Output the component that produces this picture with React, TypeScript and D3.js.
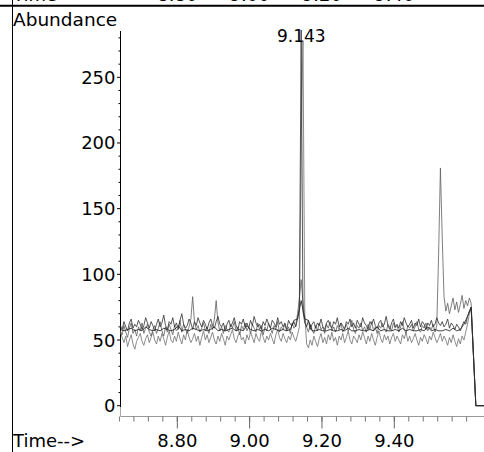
import React from "react";
import * as d3 from "d3";

// ---- data ----
const SCAN_START = 8.6425; // min, first scan
const SCAN_STEP = 0.005; // min between scans (ions A, B, C)
const D_STEP = 0.01; // min between scans (ion D)
const TAIL_TIMES = [9.6255, 9.648];
const TAIL_VALUES = [0, 0];

const seriesA = [
  61, 58, 64, 60, 57, 63, 66, 59, 62, 60,
  65, 62, 58, 61, 67, 63, 59, 64, 61, 57,
  62, 66, 60, 63, 69, 61, 58, 64, 62, 67,
  60, 63, 58, 65, 70, 62, 59, 61, 66, 63,
  58, 64, 61, 67, 63, 60, 65, 62, 58, 63,
  66, 61, 59, 64, 68, 62, 60, 63, 57, 62,
  65, 60, 63, 67, 61, 58, 64, 62, 66, 60,
  63, 59, 65, 61, 68, 63, 60, 62, 58, 64,
  61, 66, 62, 59, 65, 63, 60, 67, 62, 64,
  60, 63, 58, 65, 62, 61, 64, 60, 66, 75,
  286, 72, 63, 60, 65, 58, 62, 64, 59, 63,
  61, 66, 60, 58, 63, 65, 61, 59, 64, 62,
  67, 60, 63, 61, 58, 64, 62, 66, 60, 63,
  59, 65, 62, 60, 67, 63, 61, 58, 64, 62,
  66, 61, 59, 63, 65, 60, 62, 68, 61, 58,
  63, 66, 60, 62, 59, 64, 61, 67, 63, 60,
  62, 65, 59, 63, 61, 66, 60, 64, 62, 58,
  63, 61, 65, 60, 62, 67, 63, 61, 64, 60,
  62, 66, 59, 63, 61, 58, 62, 60, 57, 61,
  64, 62, 68, 72, 75,
];

const seriesB = [
  56, 52, 48, 53, 45, 50, 54, 47, 43, 49,
  52, 55, 49, 46, 51, 54, 48, 52, 56, 50,
  47, 53, 49, 55, 51, 46, 52, 57, 50, 48,
  53, 49, 56, 51, 47, 54, 50, 58, 52, 48,
  51, 55, 49, 53, 46, 52, 57, 50, 54, 48,
  52, 56, 50, 47, 53, 49, 55, 51, 46, 53,
  50, 54, 58, 51, 48, 53, 56, 50, 52, 47,
  54, 50, 56, 52, 48, 55, 51, 49, 57, 52,
  48, 53, 50, 55, 51, 47, 54, 58, 52, 49,
  55, 51, 48, 53, 50, 56, 52, 49, 54, 60,
  200, 278, 70, 47, 44, 50, 46, 53, 49, 45,
  51, 55, 48, 52, 47, 54, 50, 56, 49, 52,
  46, 53, 50, 55, 48, 52, 57, 50, 47, 53,
  51, 48, 54, 50, 56, 52, 47, 53, 49, 55,
  50, 46, 52, 57, 51, 48, 54, 50, 53, 47,
  52, 55, 49, 53, 50, 47, 54, 51, 56, 49,
  53, 48, 51, 55, 50, 46, 52, 49, 54, 51,
  47, 53, 50, 56, 52, 48, 51, 55, 49, 53,
  50, 46, 52, 48, 54, 49, 45, 51, 47, 53,
  50, 56, 62, 70, 74,
];

const seriesC = [
  57, 54, 61, 56, 52, 59, 63, 55, 58, 53,
  60, 57, 63, 55, 59, 62, 56, 53, 58, 61,
  55, 59, 64, 57, 53, 60, 56, 62, 58, 54,
  61, 57, 59, 65, 56, 62, 58, 55, 60, 66,
  83, 64, 58, 61, 56, 59, 63, 57, 60, 55,
  62, 58, 66, 80, 63, 57, 60, 55, 61, 58,
  56, 62, 59, 64, 57, 60, 54, 61, 58, 63,
  57, 60, 55, 62, 59, 56, 63, 58, 61, 54,
  60, 57, 63, 59, 55, 61, 58, 64, 56, 60,
  58, 62, 57, 60, 55, 63, 59, 61, 70, 82,
  96, 79, 66, 60, 56, 62, 58, 55, 61, 57,
  63, 58, 60, 55, 62, 59, 64, 57, 60, 56,
  61, 58, 63, 56, 59, 62, 57, 60, 65, 58,
  55, 61, 59, 63, 57, 60, 56, 62, 58, 64,
  57, 60, 55, 61, 59, 63, 58, 56, 62, 60,
  57, 63, 59, 61, 56, 60, 64, 58, 55, 61,
  59, 62, 57, 60, 64, 58, 56, 61, 59, 63,
  57, 60, 58, 62, 56, 61, 115, 181, 128, 83,
  72, 78, 70, 76, 82, 73, 79, 71, 77, 84,
  74, 80, 76, 82, 78,
];

const seriesD = [
  58, 57, 58, 59, 57, 58, 57, 60, 58, 57,
  58, 57, 59, 58, 57, 58, 61, 57, 58, 57,
  59, 58, 57, 58, 57, 58, 60, 57, 58, 57,
  58, 59, 57, 58, 57, 61, 58, 57, 58, 57,
  58, 57, 59, 58, 57, 58, 57, 58, 65, 66,
  80, 66, 65, 57, 57, 58, 57, 57, 58, 57,
  57, 58, 57, 59, 57, 57, 58, 57, 57, 58,
  57, 60, 57, 58, 57, 57, 58, 57, 59, 57,
  58, 57, 57, 58, 57, 60, 57, 58, 57, 57,
  58, 57, 59, 57, 58, 62, 68, 75,
];

const SERIES = [
  { name: "ion B", values: seriesB, step: SCAN_STEP, color: "#6e6e6e" },
  { name: "ion C", values: seriesC, step: SCAN_STEP, color: "#5e5e5e" },
  { name: "ion D", values: seriesD, step: D_STEP, color: "#111111" },
  { name: "ion A", values: seriesA, step: SCAN_STEP, color: "#2e2e2e" },
];

const Y_TICKS = [0, 50, 100, 150, 200, 250];
const X_TICKS = [8.8, 9.0, 9.2, 9.4];
const PEAK_LABEL = "9.143";
const PEAK_TIME = 9.143;

const W = 484;
const H = 452;
const FONT = "'DejaVu Sans', Verdana, sans-serif";

export default function App() {
  const x = d3.scaleLinear().domain([8.8, 9.4]).range([177.3, 394.3]);
  const y = d3.scaleLinear().domain([0, 250]).range([405.7, 77.3]);

  const toPoints = (vals: number[], step: number) => {
    const pts: [number, number][] = vals.map((v, i) => [SCAN_START + i * step, v]);
    TAIL_TIMES.forEach((t, i) => pts.push([t, TAIL_VALUES[i]]));
    return pts;
  };
  const line = d3
    .line<[number, number]>()
    .x((d) => x(d[0]))
    .y((d) => y(d[1]));

  const yMinor = d3.range(0, 290, 10);
  const xMinor = d3.range(0, 25).map((i) => 8.64 + i * 0.04);
  const axisX = 120.5;
  const axisY = 416.5;

  return (
    <div style={{ position: "absolute", left: 0, top: 0 }}>
      <svg width={W} height={H} style={{ display: "block", background: "#fff" }} fontFamily={FONT}>
        {/* bottom of the previous panel's time axis, cut by the frame */}
        <text x={13} y={0.5} fontSize={18}>Time--&gt;</text>
        {X_TICKS.map((t) => (
          <text key={"top" + t} x={x(t)} y={0.5} fontSize={18} textAnchor="middle">
            {t.toFixed(2)}
          </text>
        ))}
        {/* frame lines */}
        <line x1={0} x2={W} y1={5.7} y2={5.7} stroke="#000" strokeWidth={2} />
        <line x1={12.5} x2={12.5} y1={0} y2={H} stroke="#000" strokeWidth={1} />

        <text x={13} y={26} fontSize={18.5}>Abundance</text>

        {/* y axis */}
        <line x1={axisX} x2={axisX} y1={31} y2={407} stroke="#000" strokeWidth={1} />
        <line x1={axisX} x2={axisX} y1={407} y2={axisY} stroke="#aaa" strokeWidth={1} />
        {yMinor.map((v) => (
          <line
            key={"ym" + v}
            x1={axisX - (v % 50 === 0 ? 3.5 : 2)}
            x2={axisX}
            y1={y(v)}
            y2={y(v)}
            stroke="#000"
            strokeWidth={1}
          />
        ))}
        {Y_TICKS.map((v) => (
          <text key={"yl" + v} x={115.5} y={y(v) + 6.5} fontSize={18} textAnchor="end">
            {v}
          </text>
        ))}

        {/* x axis */}
        <line x1={axisX} x2={W} y1={axisY} y2={axisY} stroke="#999" strokeWidth={1} />
        {xMinor.map((t, i) => (
          <line
            key={"xm" + i}
            x1={x(t)}
            x2={x(t)}
            y1={axisY}
            y2={axisY + 5}
            stroke="#777"
            strokeWidth={1}
          />
        ))}
        {X_TICKS.map((t) => (
          <g key={"xt" + t}>
            <line x1={x(t)} x2={x(t)} y1={axisY} y2={axisY + 12} stroke="#666" strokeWidth={1} />
            <text x={x(t)} y={447} fontSize={18} textAnchor="middle">
              {t.toFixed(2)}
            </text>
          </g>
        ))}
        <text x={13} y={447} fontSize={18}>Time--&gt;</text>

        {/* traces */}
        {SERIES.map((s) => (
          <path
            key={s.name}
            d={line(toPoints(s.values, s.step)) || ""}
            fill="none"
            stroke={s.color}
            strokeWidth={0.8}
          />
        ))}

        <text x={x(PEAK_TIME)} y={42} fontSize={17} textAnchor="middle">
          {PEAK_LABEL}
        </text>
      </svg>
    </div>
  );
}
